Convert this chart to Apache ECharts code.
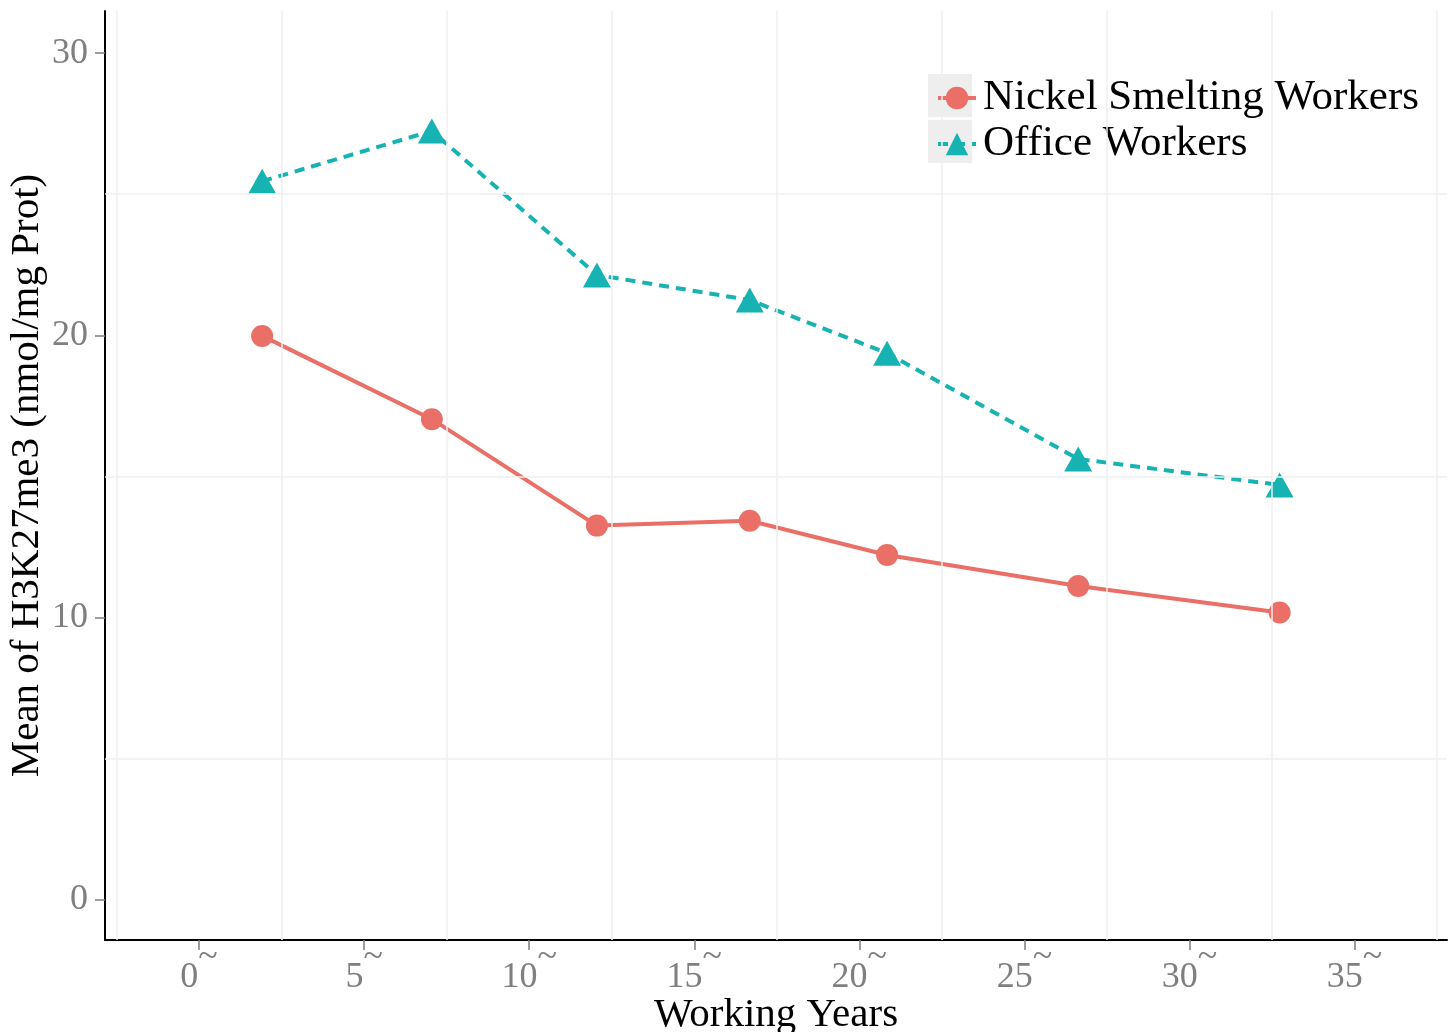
<!DOCTYPE html>
<html>
<head>
<meta charset="utf-8">
<script src="https://cdn.jsdelivr.net/npm/echarts@6/dist/echarts.min.js"></script>
<style>
html,body{margin:0;padding:0;background:#fff;}
#chart{width:1453px;height:1032px;}
</style>
</head>
<body>
<div id="chart"></div>
<script>
const years = [1.91, 7.05, 12.05, 16.68, 20.84, 26.63, 32.73];
const nickel = [19.98, 17.03, 13.26, 13.43, 12.22, 11.12, 10.18];
const office = [25.46, 27.24, 22.14, 21.25, 19.37, 15.62, 14.70];
const seriesNames = ['Nickel Smelting Workers', 'Office Workers'];
const xTicks = [0, 5, 10, 15, 20, 25, 30, 35];
const yTicks = [0, 10, 20, 30];
const xMinorGrid = [-2.5, 2.5, 7.5, 12.5, 17.5, 22.5, 27.5, 32.5, 37.5];
const yMinorGrid = [5, 15, 25];
const xTitle = 'Working Years';
const yTitle = 'Mean of H3K27me3 (nmol/mg Prot)';

const RED = '#EA6F67';
const TEAL = '#17B2B2';
const FONT = 'Liberation Serif';

const chart = echarts.init(document.getElementById('chart'));

const gridLines = [];
xMinorGrid.forEach(v => gridLines.push({ xAxis: v }));
yMinorGrid.forEach(v => gridLines.push({ yAxis: v }));

chart.setOption({
  backgroundColor: '#ffffff',
  animation: false,
  grid: { left: 105, right: 6, top: 11, bottom: 92, containLabel: false, outerBoundsMode: 'none' },
  legend: {
    left: 931,
    top: 71,
    orient: 'vertical',
    itemWidth: 38,
    itemHeight: 28,
    itemGap: 2,
    lineStyle: { width: 4 },
    textStyle: { fontFamily: FONT, fontSize: 43, color: '#000', lineHeight: 44, padding: [0, 0, 0, 2] },
    data: seriesNames
  },
  graphic: [
    { type: 'rect', left: 928, top: 74, z: -1, shape: { width: 44, height: 43 }, style: { fill: '#eeeeee' } },
    { type: 'rect', left: 928, top: 120, z: -1, shape: { width: 44, height: 43 }, style: { fill: '#eeeeee' } }
  ],
  xAxis: {
    type: 'value',
    min: -2.85,
    max: 37.8,
    name: xTitle,
    nameLocation: 'middle',
    nameGap: 55,
    nameMoveOverlap: false,
    nameTextStyle: { fontFamily: FONT, fontSize: 41, color: '#000' },
    axisLine: { show: true, onZero: false, lineStyle: { color: '#000', width: 2 } },
    axisTick: { show: true, customValues: xTicks, length: 10, lineStyle: { color: '#7f7f7f', width: 1.5 } },
    axisLabel: {
      customValues: xTicks,
      margin: 0,
      color: '#7f7f7f',
      fontFamily: FONT,
      formatter: v => '{n|' + v + '}{t|~}',
      rich: {
        n: { fontFamily: FONT, fontSize: 36, color: '#7f7f7f', verticalAlign: 'bottom' },
        t: { fontFamily: FONT, fontSize: 36, color: '#7f7f7f', verticalAlign: 'bottom', padding: [0, 0, 20, 0] }
      }
    },
    splitLine: { show: false }
  },
  yAxis: {
    type: 'value',
    min: -1.42,
    max: 31.49,
    name: yTitle,
    nameLocation: 'middle',
    nameGap: 57,
    nameMoveOverlap: false,
    nameTextStyle: { fontFamily: FONT, fontSize: 41, color: '#000' },
    axisLine: { show: true, onZero: false, lineStyle: { color: '#000', width: 2 } },
    axisTick: { show: true, customValues: yTicks, length: 10, lineStyle: { color: '#7f7f7f', width: 1.5 } },
    axisLabel: {
      customValues: yTicks,
      margin: 17,
      color: '#7f7f7f',
      fontFamily: FONT,
      fontSize: 36
    },
    splitLine: { show: false }
  },
  series: [
    {
      name: 'grid',
      type: 'line',
      data: [],
      silent: true,
      z: 0,
      markLine: {
        silent: true,
        symbol: 'none',
        animation: false,
        label: { show: false },
        lineStyle: { color: '#efefef', width: 1.5, type: 'solid' },
        data: gridLines
      }
    },
    {
      name: seriesNames[0],
      type: 'line',
      data: years.map((x, i) => [x, nickel[i]]),
      symbol: 'circle',
      symbolSize: 22,
      z: 3,
      itemStyle: { color: RED },
      lineStyle: { color: RED, width: 4, type: 'solid' }
    },
    {
      name: seriesNames[1],
      type: 'line',
      data: years.map((x, i) => [x, office[i]]),
      symbol: 'triangle',
      symbolSize: [28, 25],
      z: 4,
      itemStyle: { color: TEAL },
      lineStyle: { color: TEAL, width: 4, type: [10, 7] }
    }
  ]
});
</script>
</body>
</html>
